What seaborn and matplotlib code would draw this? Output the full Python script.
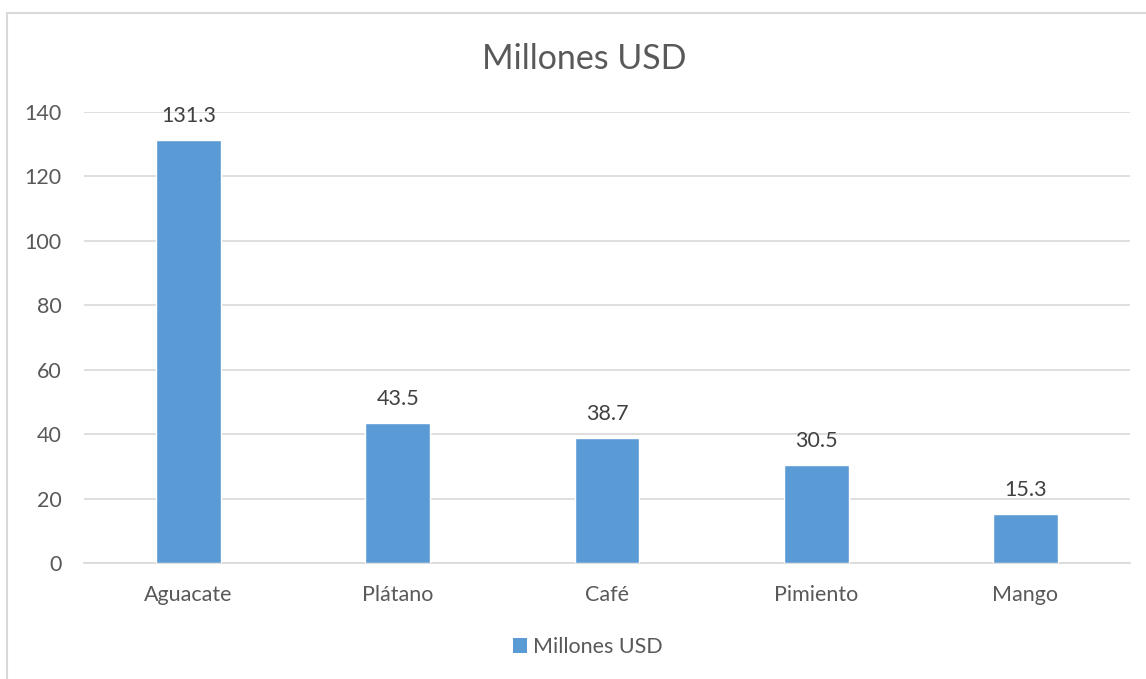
import matplotlib
matplotlib.use("Agg")
import matplotlib.pyplot as plt
import seaborn as sns
import pandas as pd
from matplotlib.patches import Rectangle, Patch

categories = ["Aguacate", "Plátano", "Café", "Pimiento", "Mango"]
values = [131.3, 43.5, 38.7, 30.5, 15.3]
series_name = "Millones USD"
yticks = [0, 20, 40, 60, 80, 100, 120, 140]

sns.set_theme(style="white")
plt.rcParams['font.family'] = ['Lato', 'DejaVu Sans']

df = pd.DataFrame({"cat": categories, "val": values})

fig = plt.figure(figsize=(11.46, 6.79), dpi=100)
ax = fig.add_axes([84/1146, 1-563/679, (1130-84)/1146, (563-112)/679])

bar_color = "#5b9bd5"
sns.barplot(data=df, x="cat", y="val", color=bar_color, width=0.31, ax=ax,
            saturation=1, zorder=3)

fs = 15.5
ax.set_ylim(0, 140)
ax.set_xlim(-0.5, len(categories)-0.5)
ax.set_yticks(yticks)
ax.yaxis.grid(True, color="#d9d9d9", linewidth=1.2, zorder=0)
ax.set_axisbelow(True)
for s in ["top", "right", "left"]:
    ax.spines[s].set_visible(False)
ax.spines["bottom"].set_color("#d9d9d9")
ax.spines["bottom"].set_linewidth(1.2)
ax.set_xlabel("")
ax.set_ylabel("")
ax.tick_params(axis="both", length=0, labelsize=fs, labelcolor="#595959")
ax.tick_params(axis="y", pad=16)
ax.tick_params(axis="x", pad=15.5)

for i, v in enumerate(values):
    ax.annotate(f"{v}", (i, v), xytext=(0, 10), textcoords="offset points",
                ha="center", va="bottom", fontsize=fs, color="#404040")

fig.text(584.5/1146, 1-59/679, series_name, ha="center", va="center", fontsize=24.5, color="#595959")

leg = fig.legend(handles=[Patch(facecolor=bar_color, edgecolor="none", label=series_name)],
                 loc="center", bbox_to_anchor=(588/1146, 1-647/679), frameon=False,
                 fontsize=fs, handlelength=0.65, handleheight=0.65, handletextpad=0.3)
for t in leg.get_texts():
    t.set_color("#595959")

fig.patches.append(Rectangle((7/1146, -0.1), 1.2, 1-13/679+0.1, transform=fig.transFigure,
                             fill=False, edgecolor="#d9d9d9", linewidth=1.5, zorder=0))

fig.savefig("out.png", dpi=100, facecolor="white")
